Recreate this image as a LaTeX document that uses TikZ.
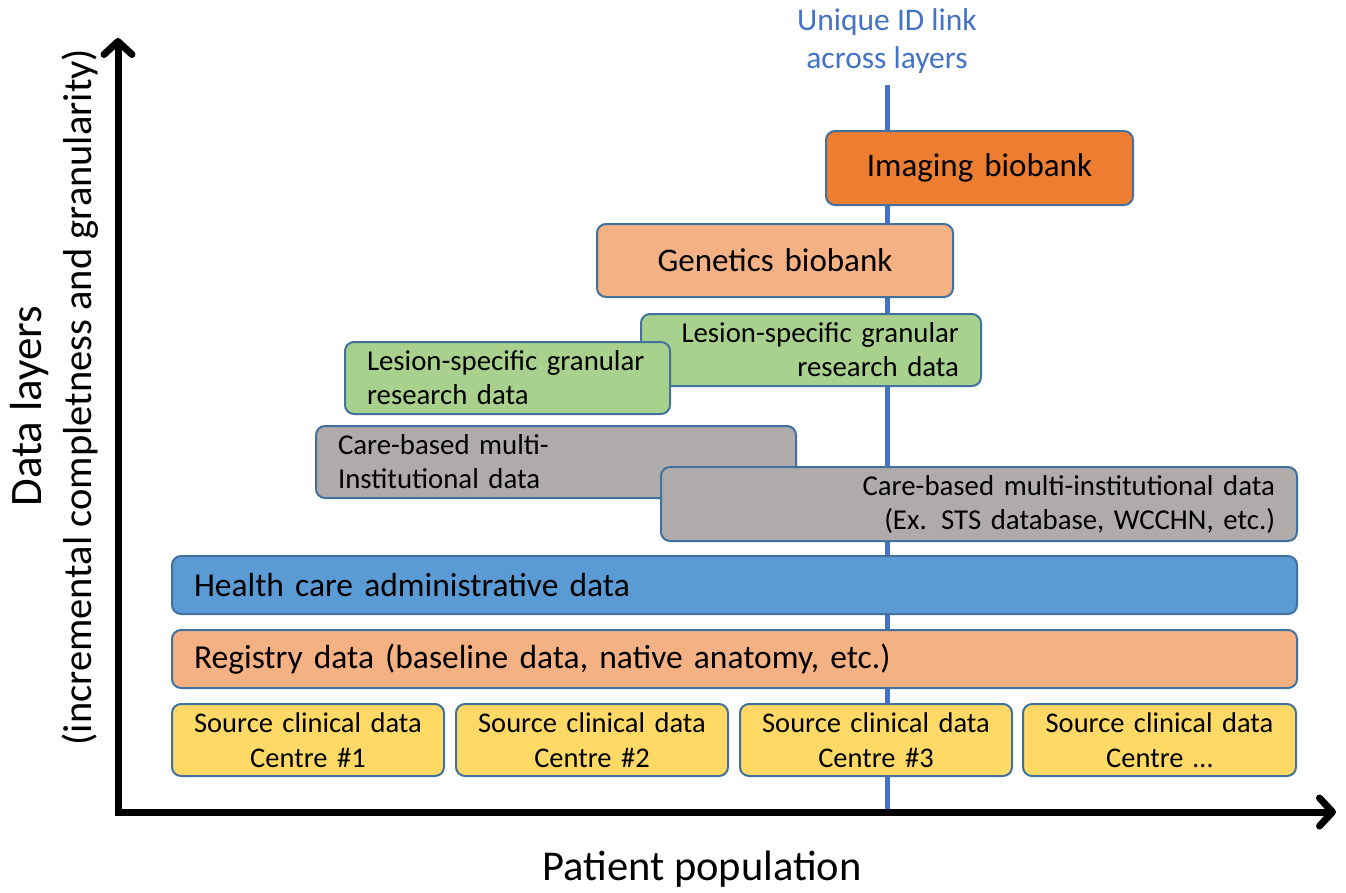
\documentclass[tikz,border=0pt]{standalone}
\usepackage{fontspec}
\setmainfont{Carlito}
\usetikzlibrary{arrows.meta}

\definecolor{edgeblue}{HTML}{41719C}
\definecolor{linkblue}{HTML}{4472C4}
\definecolor{imgorange}{HTML}{ED7D31}
\definecolor{peach}{HTML}{F4B183}
\definecolor{lesiongreen}{HTML}{A9D18E}
\definecolor{caregrey}{HTML}{AFABAB}
\definecolor{adminblue}{HTML}{5B9BD5}
\definecolor{sourceyellow}{HTML}{FFD966}

\begin{document}
\begin{tikzpicture}[
    x=1pt, y=-1pt,
    layer/.style={draw=edgeblue, line width=2pt, rounded corners=9pt, anchor=north west, inner xsep=22pt, inner ysep=0pt, font=\fontsize{28.8}{34}\selectfont},
    big/.style={font=\fontsize{33}{38}\selectfont},
    wide/.style={font=\fontsize{33.5}{36}\selectfont},
    source/.style={layer, fill=sourceyellow, text width=228pt, minimum height=72pt, align=center, font=\fontsize{28.5}{35}\selectfont},
    axis/.style={line width=7pt, {Straight Barb[round, length=13pt, width=28pt]}-{Straight Barb[round, length=13pt, width=28pt]}}
]
\useasboundingbox (0,0) rectangle (1346,892);

% ID link running through all layers
\coordinate (idtop) at (887,85);
\coordinate (idbot) at (887,812);
\draw [linkblue, line width=5pt] (idtop) -- (idbot);
\node [linkblue, align=center, font=\fontsize{31.5}{38}\selectfont] (idlabel) at (887,41) {Unique ID link\\across layers};

% Axes
\coordinate (origin) at (118,812);
\coordinate (ytip) at (118,38);
\coordinate (xtip) at (1336,812);
\draw [axis] (ytip) -- (origin) -- (xtip);
\node [anchor=base, font=\fontsize{42.5}{48}\selectfont] (xlabel) at (702,880) {Patient population};
\node [rotate=90, anchor=base, font=\fontsize{45}{50}\selectfont] (ylabel) at (41,406) {Data layers};
\node [rotate=90, anchor=base, font=\fontsize{40.5}{46}\selectfont] (ysublabel) at (91,397) {(incremental completness and granularity)};

% Layers, top to bottom
\node [layer, big, fill=imgorange, text width=263pt, minimum height=74pt, align=center] (imaging) at (825,130) {Imaging biobank};
\node [layer, big, fill=peach, text width=312pt, minimum height=73pt, align=center] (genetics) at (596,223) {Genetics biobank};
\node [layer, fill=lesiongreen, text width=296pt, minimum height=72pt, align=right] (lesionB) at (640,313) {Lesion-specific granular\\research data};
\node [layer, fill=lesiongreen, text width=281pt, minimum height=72pt, align=left] (lesionA) at (344,341) {Lesion-specific granular\\research data};
\node [layer, fill=caregrey, text width=436pt, minimum height=72pt, align=left] (careA) at (315,425) {Care-based multi-\\Institutional data};
\node [layer, fill=caregrey, text width=592pt, minimum height=74pt, align=right] (careB) at (660,466) {Care-based multi-institutional data\\(Ex. STS database, WCCHN, etc.)};
\node [layer, wide, fill=adminblue, text width=1081pt, minimum height=58pt, align=left] (admin) at (171,555) {Health care administrative data};
\node [layer, wide, fill=peach, text width=1081pt, minimum height=58pt, align=left] (registry) at (171,629) {Registry data (baseline data, native anatomy, etc.)};

% Source centres
\node [source] (centre1) at (171,703) {Source clinical data\\Centre \#1};
\node [source] (centre2) at (455,703) {Source clinical data\\Centre \#2};
\node [source] (centre3) at (739,703) {Source clinical data\\Centre \#3};
\node [source, text width=229pt] (centre4) at (1022,703) {Source clinical data\\Centre …};

\end{tikzpicture}
\end{document}
